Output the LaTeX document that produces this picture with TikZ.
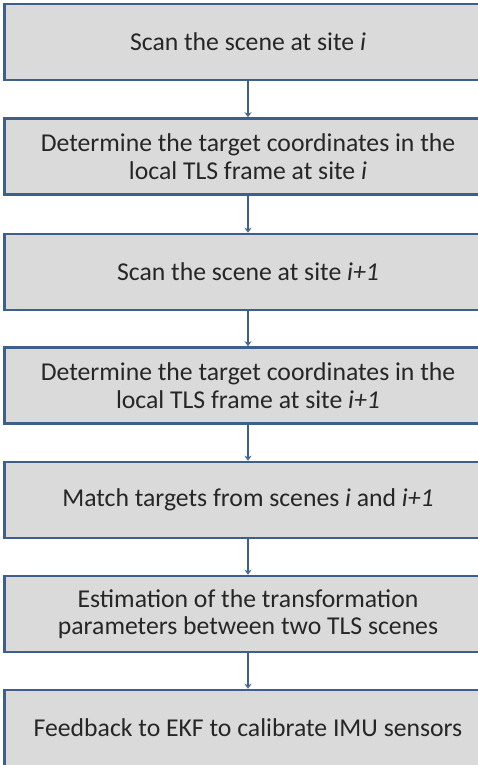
\documentclass[tikz,border=0pt]{standalone}
\usepackage{fontspec}
\setmainfont{Carlito}
\usetikzlibrary{arrows.meta}
\definecolor{boxedge}{RGB}{62,95,138}
\definecolor{boxfill}{RGB}{218,218,218}
\definecolor{boxtext}{RGB}{38,38,38}
\begin{document}
\begin{tikzpicture}[x=1pt,y=-1pt,
  stepbox/.style={draw=boxedge, line width=2.5pt, fill=boxfill,
    minimum width=487pt, minimum height=76pt, inner sep=0pt, align=center,
    font=\fontsize{25.7}{27.5}\selectfont, text=boxtext},
  flow/.style={draw=boxedge, line width=1.5pt, -{Stealth[open,length=5pt,width=7pt]}}]
\useasboundingbox (0,0) rectangle (478,765);
\clip (0,0) rectangle (478,765);
\node[stepbox] (b1) at (248,42) {Scan the scene at site \textit{i}};
\node[stepbox] (b2) at (248,156.5) {Determine the target coordinates in the\\local TLS frame at site \textit{i}};
\node[stepbox] (b3) at (248,272) {Scan the scene at site \textit{i+1}};
\node[stepbox] (b4) at (248,385.5) {Determine the target coordinates in the\\local TLS frame at site \textit{i+1}};
\node[stepbox] (b5) at (248,500) {Match targets from scenes \textit{i} and \textit{i+1}};
\node[stepbox] (b6) at (248,614) {Estimation of the transformation\\parameters between two TLS scenes};
\node[stepbox] (b7) at (248,728) {Feedback to EKF to calibrate IMU sensors};
\draw[flow] (b1.south) -- (b2.north);
\draw[flow] (b2.south) -- (b3.north);
\draw[flow] (b3.south) -- (b4.north);
\draw[flow] (b4.south) -- (b5.north);
\draw[flow] (b5.south) -- (b6.north);
\draw[flow] (b6.south) -- (b7.north);
\end{tikzpicture}
\end{document}
